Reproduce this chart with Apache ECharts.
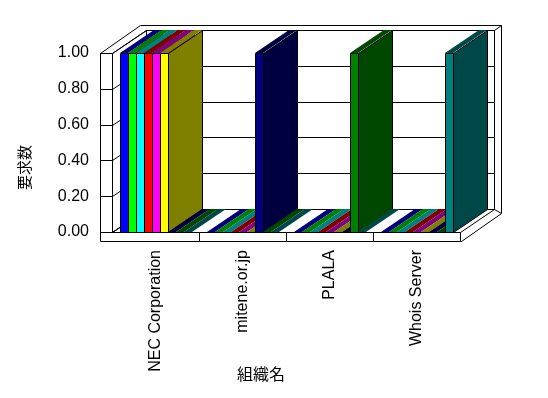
<!DOCTYPE html>
<html>
<head>
<meta charset="utf-8">
<script src="https://cdn.jsdelivr.net/npm/echarts@6/dist/echarts.min.js"></script>
<style>
html,body{margin:0;padding:0;background:#fff;}
#chart{width:548px;height:398px;}
</style>
</head>
<body>
<div id="chart"></div>
<script>
// ---- data ----
const categories = ['NEC Corporation', 'mitene.or.jp', 'PLALA', 'Whois Server'];
const yTicks = [0, 0.2, 0.4, 0.6, 0.8, 1.0];
const series1 = [1, 0, 0, 0];
const series2 = [1, 0, 0, 0];
const series3 = [1, 0, 0, 0];
const series4 = [1, 0, 0, 0];
const series5 = [1, 0, 0, 0];
const series6 = [1, 0, 0, 0];
const series7 = [0, 1, 0, 0];
const series8 = [0, 0, 1, 0];
const series9 = [0, 0, 0, 1];
const allSeries = [series1, series2, series3, series4, series5, series6, series7, series8, series9];

// ---- style ----
const frontColors = ['#0000ff', '#00ff00', '#00ffff', '#ff0000', '#ff00ff', '#ffff00', '#000080', '#008000', '#008080'];
const darkColors = ['#000080', '#008000', '#008080', '#800000', '#800080', '#808000', '#000040', '#004800', '#004848'];
const DX = 34, DY = 23;
const FONT = '"Liberation Sans", Arial, sans-serif';

const P = (x, y) => [Math.round(x) + 0.5, Math.round(y) + 0.5];
function seg(pts, closed) {
  return { type: closed ? 'polygon' : 'polyline', shape: { points: pts.map(p => P(p[0], p[1])) },
    style: { stroke: '#000', lineWidth: 1, fill: closed ? '#fff' : null } };
}

function renderFrame(params, api) {
  const cs = params.coordSys;
  const L = cs.x, T = cs.y, R = cs.x + cs.width, B = cs.y + cs.height;
  const ch = [];
  ch.push(seg([[L - 12, B + 9], [L - 12, T], [L + 28, T - 28], [R + 41, T - 28], [R + 41, B - 19], [R + 1, B + 9]], true));
  ch.push(seg([[L + DX, T - DY], [R + DX, T - DY], [R + DX, B - DY], [L + DX, B - DY]], true));
  ch.push(seg([[L, T], [L + DX, T - DY], [L + DX, B - DY], [L, B]], true));
  ch.push(seg([[L, B], [L + DX, B - DY], [R + DX, B - DY], [R, B]], true));
  ch.push(seg([[L - 12, T], [L, T]]));
  ch.push(seg([[R + DX, T - DY], [R + 41, T - 28]]));
  ch.push(seg([[R + DX, B - DY], [R + 41, B - 19]]));
  ch.push(seg([[R, B], [R, B + 9]]));
  yTicks.forEach(v => {
    const y = api.coord([0, v])[1];
    ch.push(seg([[L - 12, y], [L, y], [L + DX, y - DY], [R + DX, y - DY]]));
  });
  const band = api.size([1, 0])[0];
  for (let k = 1; k < categories.length; k++) {
    const x = L + k * band;
    ch.push(seg([[x, B], [x, B + 9]]));
  }
  return { type: 'group', children: ch };
}

function makeBarRender(i) {
  const NS = allSeries.length;
  const dark = darkColors[i];
  return function (params, api) {
    const cat = api.value(0), v = api.value(1);
    const band = api.size([1, 0])[0];
    const slot = band * 8 / 87;
    const base = api.coord([cat, 0]);
    const topP = api.coord([cat, v]);
    const x = Math.round(base[0] - band / 2 + (band - NS * slot) / 2 + i * slot);
    const w = Math.round(slot);
    const y0 = Math.round(base[1]), y1 = Math.round(topP[1]);
    const ch = [];
    if (v > 0) {
      ch.push({ type: 'polygon', shape: { points: [P(x + w, y1), P(x + w, y0), P(x + w + DX, y0 - DY), P(x + w + DX, y1 - DY)] },
        style: { fill: dark, stroke: '#000', lineWidth: 1 } });
      ch.push({ type: 'polygon', shape: { points: [[x, y1], [x + w, y1], [x + w + DX, y1 - DY], [x + DX, y1 - DY]] },
        style: { fill: dark } });
      ch.push({ type: 'rect', shape: { x: x + 0.5, y: y1 + 0.5, width: w, height: y0 - y1 },
        style: { fill: frontColors[i], stroke: '#000', lineWidth: 1 } });
    } else {
      ch.push({ type: 'polygon', shape: { points: [[x, y0], [x + w, y0], [x + w + DX, y0 - DY], [x + DX, y0 - DY]] },
        style: { fill: dark } });
    }
    return { type: 'group', children: ch };
  };
}

const seriesList = [{
  type: 'custom', name: 'frame', z: 1, silent: true,
  renderItem: renderFrame, data: [[0, 0]]
}];
allSeries.forEach((vals, i) => {
  seriesList.push({
    type: 'custom', name: 'S' + (i + 1), z: 2, silent: true,
    renderItem: makeBarRender(i),
    encode: { x: 0, y: 1 },
    data: vals.map((v, j) => [j, v])
  });
});

const chart = echarts.init(document.getElementById('chart'), null, { renderer: 'canvas' });
chart.setOption({
  animation: false,
  backgroundColor: '#fff',
  grid: { left: 112, top: 53, right: 88, bottom: 166, containLabel: false },
  xAxis: {
    type: 'category', data: categories,
    axisLine: { show: false }, axisTick: { show: false }, splitLine: { show: false },
    axisLabel: { rotate: 90, margin: 18, interval: 0, fontSize: 16, fontFamily: FONT, color: '#000' },
    name: '組織名', nameLocation: 'middle', nameGap: 134, nameMoveOverlap: false,
    nameTextStyle: { fontSize: 16, fontFamily: '"Noto Sans CJK JP", sans-serif', color: '#000', padding: [0, 50, 0, 0] }
  },
  yAxis: {
    type: 'value', min: 0, max: 1, interval: 0.2,
    axisLine: { show: false }, axisTick: { show: false }, splitLine: { show: false },
    axisLabel: { margin: 23, fontSize: 16, fontFamily: FONT, color: '#000', formatter: v => v.toFixed(2) },
    name: '要求数', nameLocation: 'middle', nameRotate: 90, nameGap: 80, nameMoveOverlap: false,
    nameTextStyle: { fontSize: 15, fontFamily: '"Noto Sans CJK JP", sans-serif', color: '#000', padding: [0, 50, 0, 0] }
  },
  series: seriesList
});
</script>
</body>
</html>
